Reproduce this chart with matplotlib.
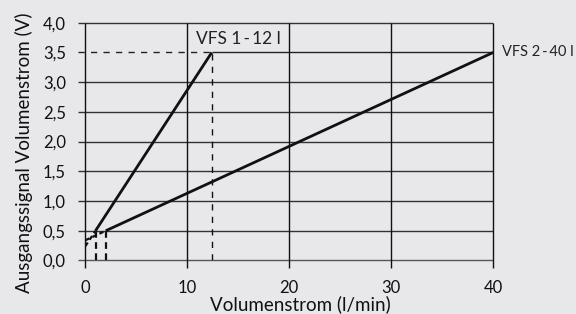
import numpy as np
import matplotlib.pyplot as plt

plt.rcParams['font.family'] = ['Lato', 'DejaVu Sans']

# --- Data ---
x_ticks = [0, 10, 20, 30, 40]
y_ticks = [0.0, 0.5, 1.0, 1.5, 2.0, 2.5, 3.0, 3.5, 4.0]
y_ticklabels = ["0,0", "0,5", "1,0", "1,5", "2,0", "2,5", "3,0", "3,5", "4,0"]

# VFS 1-12 l: solid from (1, 0.5) to (12.4, 3.5), dashed extension to x=0
vfs12_flow = [1.0, 12.4]
vfs12_volt = [0.5, 3.5]
vfs12_ext_flow = [0.0, 1.0]
vfs12_ext_volt = [0.24, 0.5]

# VFS 2-40 l: solid from (2, 0.5) to (40, 3.5), dashed extension to x=0
vfs40_flow = [2.0, 40.0]
vfs40_volt = [0.5, 3.5]
vfs40_ext_flow = [0.0, 2.0]
vfs40_ext_volt = [0.34, 0.5]

bg = "#e8e8ea"
fig = plt.figure(figsize=(5.76, 3.14), dpi=100, facecolor=bg)
ax = fig.add_axes([0.1481, 0.1704, 0.7083, 0.7573], facecolor=bg)
ax.set_xlim(0, 40)
ax.set_ylim(0, 4)
for s in ax.spines.values():
    s.set_visible(False)

# grid with outward stubs
x_left = -0.7
y_low = -0.12
for yv in y_ticks:
    if yv == 3.5:
        ax.hlines(yv, x_left, vfs12_flow[1], color="#222222", lw=1.0,
                  ls=(0, (4.5, 4.5)), clip_on=False)
        ax.hlines(yv, vfs12_flow[1], 40, color="#222222", lw=1.0, clip_on=False)
    else:
        col = "#555555" if yv == 0 else "#333333"
        ax.hlines(yv, x_left, 40, color=col, lw=1.0, clip_on=False)
for xv in x_ticks:
    ax.vlines(xv, y_low, 4.0, color="#111111", lw=1.0, clip_on=False)

# dashed helper lines
dash = (0, (4.5, 4.5))
ax.vlines(vfs12_flow[1], 0, vfs12_volt[1], color="#111111", lw=1.0, ls=dash)
ax.vlines(vfs12_flow[0], 0, vfs12_volt[0], color="#111111", lw=1.6, ls=(0, (3, 2)))
ax.vlines(vfs40_flow[0], 0, vfs40_volt[0], color="#111111", lw=1.6, ls=(0, (3, 2)))

# characteristic lines
ax.plot(vfs12_flow, vfs12_volt, color="#111111", lw=2.0, solid_capstyle="butt")
ax.plot(vfs40_flow, vfs40_volt, color="#111111", lw=2.0, solid_capstyle="butt")
ax.plot(vfs12_ext_flow, vfs12_ext_volt, color="#111111", lw=1.6, ls=(0, (2, 1.5)))
ax.plot(vfs40_ext_flow, vfs40_ext_volt, color="#111111", lw=1.6, ls=(0, (2, 1.5)))

ax.text(10.9, 3.72, "VFS 1\u2009-\u200912 l", fontsize=12.5, color="#222222",
        ha="left", va="center")
ax.text(40.85, 3.5, "VFS 2\u2009-\u200940 l", fontsize=10.5, color="#222222",
        ha="left", va="center", clip_on=False)

ax.set_xticks(x_ticks)
ax.set_yticks(y_ticks)
ax.set_yticklabels(y_ticklabels)
ax.tick_params(length=0, labelsize=12, colors="#111111")
ax.tick_params(axis="y", pad=14)
ax.tick_params(axis="x", pad=14)

ax.set_xlabel("Volumenstrom (l/min)", fontsize=13.5, color="#111111")
ax.xaxis.set_label_coords(0.526, -0.182)
ax.xaxis.label.set_va("center")
ax.set_ylabel("Ausgangssignal Volumenstrom (V)", fontsize=13.5, color="#111111")
ax.yaxis.set_label_coords(-0.15, 0.455)
ax.yaxis.label.set_va("center")

plt.savefig("out.png", dpi=100, facecolor=bg)
plt.close()
